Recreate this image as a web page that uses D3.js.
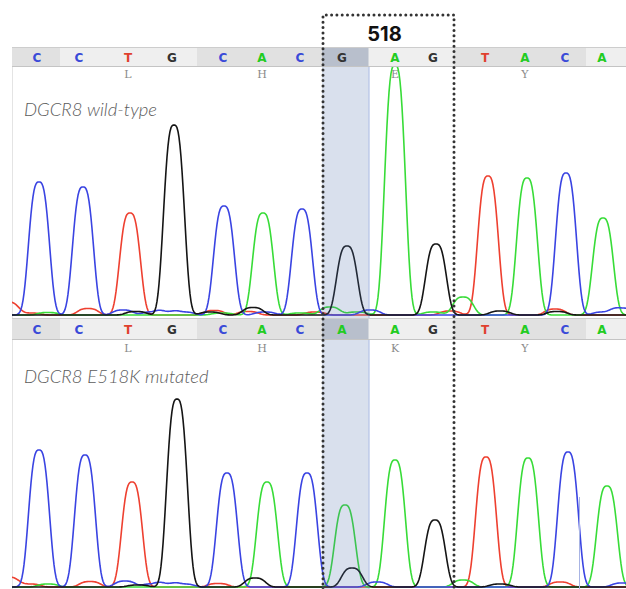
<!DOCTYPE html>
<html>
<head>
<meta charset="utf-8">
<script src="https://cdn.jsdelivr.net/npm/d3@7"></script>
<style>
  html, body { margin: 0; padding: 0; background: #fff; }
  svg { display: block; }
</style>
</head>
<body>
<svg id="chart" width="626" height="589"></svg>
<script>
/*****************************************************************************
 *  Chromatogram data (trace scan units, RFU)
 */

// base calls shown in the sequence bands
var WT_CALLS = ["C", "C", "T", "G", "C", "A", "C", "G", "A", "G", "T", "A", "C", "A"];
var MUT_CALLS = ["C", "C", "T", "G", "C", "A", "C", "A", "A", "G", "T", "A", "C", "A"];
var CALL_SCANS = [25, 67, 116, 160, 211, 250, 288, 330, 383, 421, 473, 513, 553, 590];

// codons (index of first base) and amino acids
var CODON_START = [1, 4, 7, 10];
var WT_AMINO = ["L", "H", "E", "Y"];
var MUT_AMINO = ["L", "H", "K", "Y"];
var CODON_EDGES = [48, 185, 310, 442, 574];
var MUTATION_INDEX = 7;
var MUTATION_LABEL = "518";

// peaks: [base, scan, rfu]
var WT_PEAKS = [
    ["C", 27, 1330], ["C", 71, 1280], ["T", 118, 1020], ["G", 162, 1900],
    ["C", 212, 1090], ["A", 251, 1020], ["C", 290, 1060], ["G", 335, 690],
    ["A", 383, 2500], ["G", 424, 710], ["T", 476, 1390], ["A", 515, 1370],
    ["C", 554, 1420], ["A", 591, 970],
    ["T", -4, 130], ["T", 18, 20], ["A", 36, 25], ["T", 76, 65], ["C", 111, 50],
    ["G", 124, 35], ["C", 140, 30], ["C", 155, 30], ["C", 172, 30], ["G", 198, 30],
    ["T", 202, 45], ["A", 210, 20], ["G", 241, 75], ["T", 236, 35], ["C", 253, 30],
    ["A", 288, 20], ["T", 303, 30], ["A", 318, 80], ["A", 345, 30], ["C", 358, 50],
    ["A", 421, 30], ["T", 438, 40], ["A", 451, 180], ["G", 488, 40], ["T", 543, 60],
    ["G", 545, 35], ["C", 591, 30], ["C", 610, 70]
];

var MUT_PEAKS = [
    ["C", 27, 1370], ["C", 73, 1320], ["T", 120, 1050], ["G", 165, 1880],
    ["C", 215, 1140], ["A", 255, 1050], ["C", 295, 1140], ["A", 333, 820],
    ["G", 340, 190], ["A", 383, 1270], ["G", 423, 670], ["T", 474, 1300],
    ["A", 516, 1290], ["C", 556, 1350], ["A", 595, 1010],
    ["T", -4, 100], ["T", 18, 30], ["A", 36, 30], ["T", 78, 55], ["C", 113, 60],
    ["G", 126, 20], ["C", 140, 30], ["C", 155, 30], ["C", 172, 30], ["T", 206, 35],
    ["G", 243, 90], ["C", 365, 50], ["A", 451, 70], ["G", 488, 30], ["T", 548, 50],
    ["C", 610, 40]
];

var CURSOR_SCAN = 567;

/*****************************************************************************
 *  Layout / style
 */
var WIDTH = 626, HEIGHT = 589;
var LEFT = 12;
var PEAK_W = 12.3, PEAK_P = 3;
var TRACE_COLOR = { A: "#38dc38", C: "#3a44e2", G: "#151515", T: "#ee4030" };
var CALL_COLOR = { A: "#22cc22", C: "#3a4ad8", G: "#333333", T: "#e0402e" };
var BAND_DARK = "#e1e1e1", BAND_LIGHT = "#efefef";

var panels = [
    { calls: WT_CALLS, amino: WT_AMINO, peaks: WT_PEAKS, title: "DGCR8 wild-type",
      bandTop: 47, bandH: 20, top: 67, bottom: 318, baseline: 315, titleY: 116, aminoY: 78 },
    { calls: MUT_CALLS, amino: MUT_AMINO, peaks: MUT_PEAKS, title: "DGCR8 E518K mutated",
      bandTop: 318, bandH: 22, top: 340, bottom: 589, baseline: 587, titleY: 383, aminoY: 352 }
];

var svg = d3.select("#chart");
var xScale = d3.scaleLinear().domain([0, 614]).range([LEFT, WIDTH]);

svg.append("rect").attr("width", WIDTH).attr("height", HEIGHT).attr("fill", "#fff");

function traceFor(peaks, base) {
    var pts = [];
    var own = peaks.filter(p => p[0] === base);
    for (var s = -2; s <= 616; s += 1) {
        var v = 0;
        own.forEach(p => { v += p[2] * Math.exp(-Math.pow(Math.abs(s - p[1]) / PEAK_W, PEAK_P)); });
        pts.push([s, v]);
    }
    return pts;
}

panels.forEach(function (pn, k) {
    var yScale = d3.scaleLinear().domain([0, 2500]).range([pn.baseline, pn.baseline - 250]);

    // Clip region for traces
    svg.append("clipPath").attr("id", "clip" + k)
        .append("rect")
        .attr("x", LEFT).attr("y", pn.top)
        .attr("width", WIDTH - LEFT).attr("height", pn.bottom - pn.top);

    // Left border
    svg.append("line")
        .attr("x1", LEFT + 0.5).attr("x2", LEFT + 0.5)
        .attr("y1", pn.top).attr("y2", pn.bottom)
        .attr("stroke", "#e4e4e4");

    // Title
    svg.append("text")
        .attr("x", 24).attr("y", pn.titleY)
        .style("font-family", "Lato, 'Open Sans', sans-serif")
        .style("font-weight", 300)
        .style("font-style", "italic")
        .style("font-size", "18.5px")
        .style("fill", "#5c5c5c")
        .text(pn.title);

    // Amino acid labels
    pn.amino.forEach(function (aa, i) {
        svg.append("text")
            .attr("x", xScale(CALL_SCANS[CODON_START[i] + 1]))
            .attr("y", pn.aminoY)
            .attr("text-anchor", "middle")
            .style("font-family", "'DejaVu Serif', serif")
            .style("font-size", "11px")
            .style("fill", "#8a8a8a")
            .text(aa);
    });

    // Traces
    var g = svg.append("g").attr("clip-path", "url(#clip" + k + ")");
    var lineGenerator = d3.line()
        .x(d => xScale(d[0]))
        .y(d => yScale(d[1]));
    ["T", "A", "C", "G"].forEach(function (b) {
        g.append("path")
            .attr("class", "trace")
            .attr("d", lineGenerator(traceFor(pn.peaks, b)))
            .attr("fill", "none")
            .attr("stroke", TRACE_COLOR[b])
            .attr("stroke-width", 1.6)
            .attr("stroke-linejoin", "round");
    });

    // Mutation column highlight
    var hx0 = (xScale(CALL_SCANS[MUTATION_INDEX - 1]) + xScale(CALL_SCANS[MUTATION_INDEX])) / 2 + 1;
    var hx1 = (xScale(CALL_SCANS[MUTATION_INDEX]) + xScale(CALL_SCANS[MUTATION_INDEX + 1])) / 2;
    svg.append("rect")
        .attr("x", hx0).attr("y", pn.top)
        .attr("width", hx1 - hx0).attr("height", pn.bottom - pn.top)
        .attr("fill", "rgba(80,112,175,0.22)");
    svg.append("line")
        .attr("x1", hx1 + 0.5).attr("x2", hx1 + 0.5)
        .attr("y1", pn.top).attr("y2", pn.bottom)
        .attr("stroke", "rgba(90,120,200,0.55)");

    // Sequence band
    var edges = [LEFT].concat(CODON_EDGES.map(xScale)).concat([WIDTH]);
    for (var e = 0; e < edges.length - 1; e++) {
        svg.append("rect")
            .attr("x", edges[e]).attr("y", pn.bandTop)
            .attr("width", edges[e + 1] - edges[e]).attr("height", pn.bandH)
            .attr("fill", e % 2 === 0 ? BAND_DARK : BAND_LIGHT);
    }
    svg.append("rect")
        .attr("x", hx0).attr("y", pn.bandTop)
        .attr("width", hx1 - hx0).attr("height", pn.bandH)
        .attr("fill", "#b8bfcc");
    svg.append("line")
        .attr("x1", LEFT).attr("x2", WIDTH)
        .attr("y1", pn.bandTop + 0.5).attr("y2", pn.bandTop + 0.5)
        .attr("stroke", "#cdcdcd");
    svg.append("line")
        .attr("x1", LEFT).attr("x2", WIDTH)
        .attr("y1", pn.bandTop + pn.bandH - 0.5).attr("y2", pn.bandTop + pn.bandH - 0.5)
        .attr("stroke", "#c4c4c4");

    svg.selectAll(".call" + k)
        .data(pn.calls)
        .enter()
        .append("text")
        .attr("class", "call" + k)
        .attr("x", (d, i) => xScale(CALL_SCANS[i]))
        .attr("y", pn.bandTop + pn.bandH / 2 + 4.5)
        .attr("text-anchor", "middle")
        .style("font-family", "'DejaVu Sans', sans-serif")
        .style("font-weight", "bold")
        .style("font-size", "12px")
        .style("fill", d => CALL_COLOR[d])
        .text(d => d);
});

// Cursor line in the mutant trace
svg.append("line")
    .attr("x1", xScale(CURSOR_SCAN) + 0.5).attr("x2", xScale(CURSOR_SCAN) + 0.5)
    .attr("y1", 497).attr("y2", 589)
    .attr("stroke", "#a8b4e4");

// Dotted box around the mutated codon
var bx0 = xScale(CODON_EDGES[2]) + 1, bx1 = xScale(CODON_EDGES[3]);
svg.append("path")
    .attr("d", "M" + bx0 + ",600V15H" + bx1 + "V600")
    .attr("fill", "none")
    .attr("stroke", "#333")
    .attr("stroke-width", 3)
    .attr("stroke-linecap", "round")
    .attr("stroke-dasharray", "0 5.3");

svg.append("text")
    .attr("x", (bx0 + bx1) / 2 - 4)
    .attr("y", 41)
    .attr("text-anchor", "middle")
    .style("font-family", "Inter, Roboto, sans-serif")
    .style("font-weight", "bold")
    .style("font-size", "20px")
    .style("fill", "#111")
    .text(MUTATION_LABEL);
</script>
</body>
</html>
